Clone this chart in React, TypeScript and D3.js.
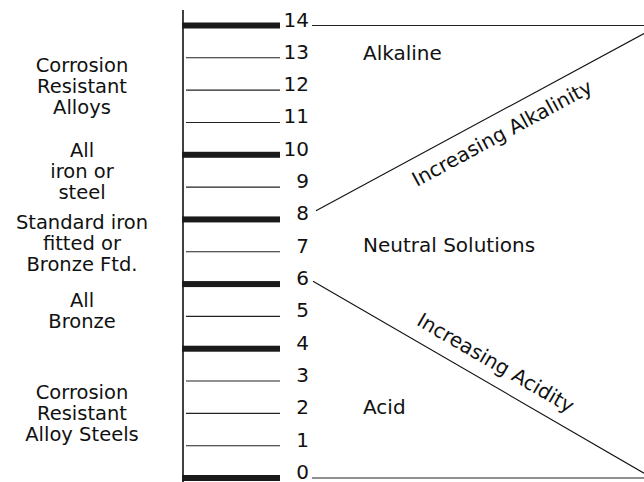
import * as d3 from 'd3';

const W = 644;
const H = 482;

// pH ladder
const phValues = d3.range(0, 15);
const heavyTicks = [0, 4, 6, 8, 10, 14];

// material groups on the left (lines, baseline pH position)
const materialLines = [
  ['Corrosion', 'Resistant', 'Alloys'],
  ['All', 'iron or', 'steel'],
  ['Standard iron', 'fitted or', 'Bronze Ftd.'],
  ['All', 'Bronze'],
  ['Corrosion', 'Resistant', 'Alloy Steels'],
];
const materialTopPh = [12.55, 9.92, 7.7, 5.3, 2.45];

// regions on the right
const regionNames = ['Alkaline', 'Neutral Solutions', 'Acid'];
const regionPh = [12.93, 6.98, 1.98];

// diagonals: [start pH, end pH], position 0..100 across the right panel
const diagonals = [
  { name: 'Increasing Alkalinity', from: [1.2, 8.27], to: [100, 13.75], at: 0.538, off: 27 },
  { name: 'Increasing Acidity', from: [0.3, 6.09], to: [100, 0.15], at: 0.52, off: -14 },
];

const font = 'DejaVu Sans, Liberation Sans, sans-serif';

export default function App() {
  const y = d3.scaleLinear().domain([0, 14]).range([478, 25.5]);
  const xr = d3.scaleLinear().domain([0, 100]).range([312, W]);
  const axisX = 183;
  const tickEnd = 280;
  const lineH = 21;

  return (
    <svg
      width={W}
      height={H}
      viewBox={`0 0 ${W} ${H}`}
      style={{ position: 'absolute', left: 0, top: 0, background: '#fff' }}
      fontFamily={font}
    >
      <rect width={W} height={H} fill="#fff" />
      <line x1={axisX} x2={axisX} y1={10} y2={H} stroke="#111" strokeWidth={1.6} />

      {phValues.map((p) => {
        const heavy = heavyTicks.includes(p);
        return (
          <g key={p}>
            {heavy ? (
              <rect x={axisX - 1} y={y(p) - 3} width={tickEnd - axisX + 1} height={6} fill="#1a1a1a" />
            ) : (
              <line x1={axisX + 3} x2={tickEnd} y1={y(p)} y2={y(p)} stroke="#222" strokeWidth={1.1} />
            )}
            <text x={309} y={y(p) + 1} textAnchor="end" fontSize={20} fill="#111">
              {p}
            </text>
          </g>
        );
      })}

      {/* top and bottom boundary lines */}
      <line x1={xr(0)} x2={xr(100)} y1={y(14)} y2={y(14)} stroke="#222" strokeWidth={1.1} />
      <line x1={xr(0)} x2={xr(100)} y1={y(0)} y2={y(0)} stroke="#222" strokeWidth={1.1} />

      {diagonals.map((d) => {
        const x1 = xr(d.from[0]);
        const y1 = y(d.from[1]);
        const x2 = xr(d.to[0]);
        const y2 = y(d.to[1]);
        const ang = (Math.atan2(y2 - y1, x2 - x1) * 180) / Math.PI;
        const px = x1 + (x2 - x1) * d.at;
        const py = y1 + (y2 - y1) * d.at;
        return (
          <g key={d.name}>
            <line x1={x1} y1={y1} x2={x2} y2={y2} stroke="#111" strokeWidth={1.1} />
            <text
              transform={`translate(${px},${py}) rotate(${ang})`}
              dy={d.off}
              textAnchor="middle"
              fontSize={20}
              fill="#111"
            >
              {d.name}
            </text>
          </g>
        );
      })}

      {regionNames.map((r, i) => (
        <text key={r} x={363} y={y(regionPh[i])} fontSize={20} fill="#111">
          {r}
        </text>
      ))}

      {materialLines.map((lines, gi) => (
        <text key={gi} textAnchor="middle" fontSize={19.5} fill="#111">
          {lines.map((l, li) => (
            <tspan key={li} x={82} y={y(materialTopPh[gi]) + li * lineH}>
              {l}
            </tspan>
          ))}
        </text>
      ))}
    </svg>
  );
}
